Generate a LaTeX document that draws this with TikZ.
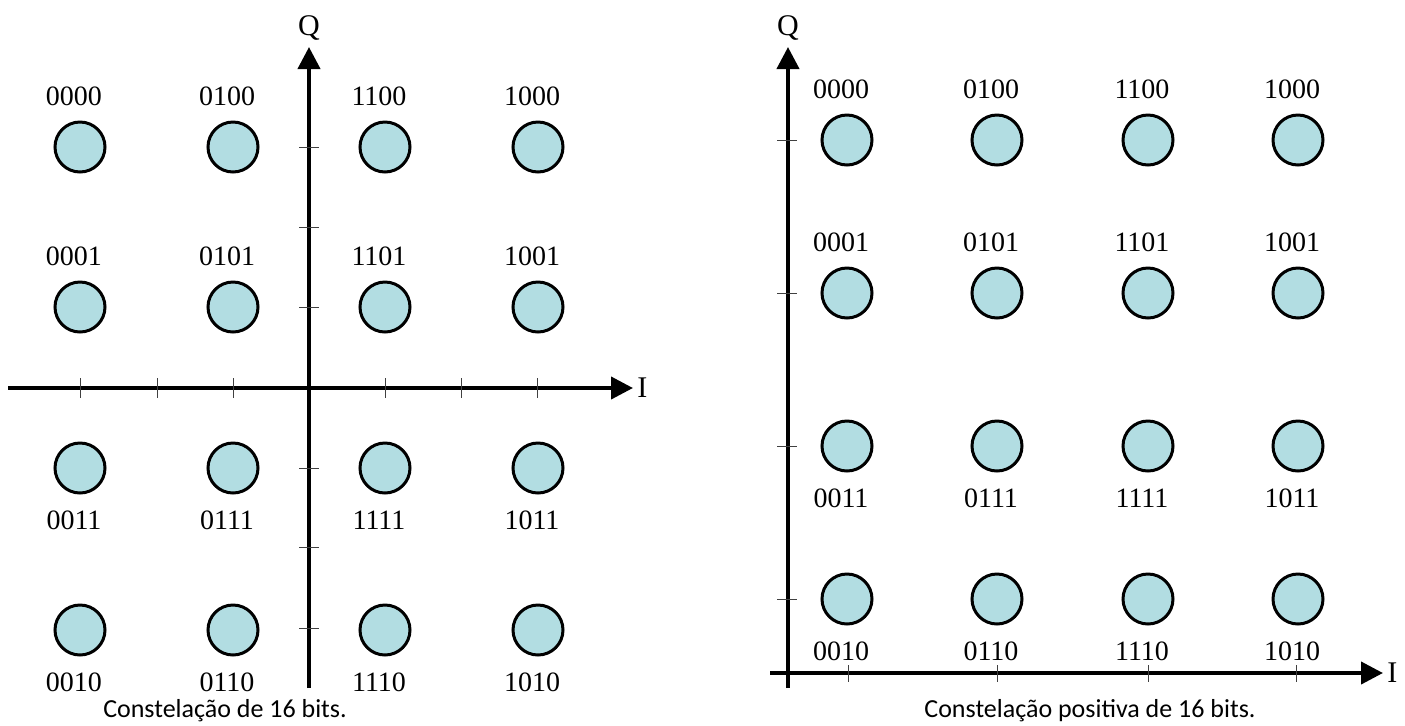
\documentclass[tikz,border=0pt]{standalone}
\usepackage{fontspec}
\setmainfont{Liberation Serif}
\newfontfamily\capfont{Carlito}
\usetikzlibrary{arrows.meta,positioning}
\definecolor{ptfill}{RGB}{178,221,226}
\tikzset{
  eixo/.style={line width=2pt,-{Triangle[length=11pt,width=11pt]}},
  marca/.style={line width=0.5pt,black!75},
  ponto/.style={circle,draw,line width=1.5pt,fill=ptfill,minimum size=25pt,inner sep=0pt},
  rotulo/.style={inner sep=0pt,font=\fontsize{14}{16}\selectfont},
  eixolab/.style={inner sep=0pt,font=\fontsize{15}{17}\selectfont},
  legenda/.style={inner sep=0pt,font=\capfont\fontsize{13}{15}\selectfont}
}

\begin{document}
\begin{tikzpicture}[x=0.5pt,y=-0.5pt]
\useasboundingbox (0,0) rectangle (1405,725);

%constelacao completa (esquerda)
\coordinate (eI0) at (8,388);
\coordinate (eItip) at (633,388);
\coordinate (eQ0) at (309,688);
\coordinate (eQtip) at (309,47);
\draw [eixo] (eI0) -- (eItip);
\draw [eixo] (eQ0) -- (eQtip);
\node[eixolab, right=2pt of eItip] (eI) {I};
\node[eixolab, above=3pt of eQtip] (eQ) {Q};

%marcas do eixo I e do eixo Q
\foreach \x in {80,157,233,385,461,537}
	\draw [marca] (\x,378) -- (\x,398);
\foreach \y in {147,227,307,468,547,628}
	\draw [marca] (299,\y) -- (319,\y);

%pontos com rotulo em cima
\foreach \c/\x/\y in {0000/80/147,0100/233/147,1100/385/147,1000/538/147,
                      0001/80/307,0101/233/307,1101/385/307,1001/538/307}
{
	\node[ponto] (e\c) at (\x,\y) {};
	\node[rotulo, above=7pt of e\c, xshift=-3pt] (et\c) {\c};
}
%pontos com rotulo embaixo
\foreach \c/\x/\y in {0011/80/468,0111/233/468,1111/385/468,1011/538/468,
                      0010/80/630,0110/233/630,1110/385/630,1010/538/630}
{
	\node[ponto] (e\c) at (\x,\y) {};
	\node[rotulo, below=8pt of e\c, xshift=-3pt] (et\c) {\c};
}

%constelacao positiva (direita)
\coordinate (dI0) at (770,673);
\coordinate (dItip) at (1383,673);
\coordinate (dQ0) at (788,688);
\coordinate (dQtip) at (788,47);
\draw [eixo] (dI0) -- (dItip);
\draw [eixo] (dQ0) -- (dQtip);
\node[eixolab, right=2pt of dItip] (dI) {I};
\node[eixolab, above=3pt of dQtip] (dQ) {Q};

\foreach \x in {848,997,1148,1296}
	\draw [marca] (\x,665) -- (\x,682);
\foreach \y in {140,293,446,599}
	\draw [marca] (777,\y) -- (797,\y);

\foreach \c/\x/\y in {0000/847/140,0100/997/140,1100/1148/140,1000/1298/140,
                      0001/847/293,0101/997/293,1101/1148/293,1001/1298/293}
{
	\node[ponto] (d\c) at (\x,\y) {};
	\node[rotulo, above=7pt of d\c, xshift=-3pt] (dt\c) {\c};
}
\foreach \c/\x/\y in {0011/847/446,0111/997/446,1111/1148/446,1011/1298/446,
                      0010/847/599,0110/997/599,1110/1148/599,1010/1298/599}
{
	\node[ponto] (d\c) at (\x,\y) {};
	\node[rotulo, below=8pt of d\c, xshift=-3pt] (dt\c) {\c};
}

%legendas
\node[legenda] (legE) at (225,711) {Constelação de 16 bits.};
\node[legenda] (legD) at (1090,711) {Constelação positiva de 16 bits.};
\end{tikzpicture}
\end{document}
